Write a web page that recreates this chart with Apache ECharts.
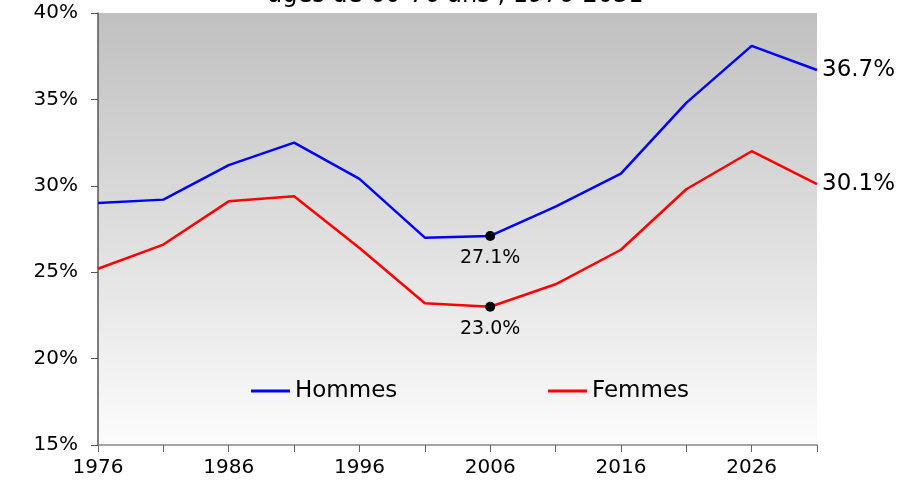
<!DOCTYPE html>
<html>
<head>
<meta charset="utf-8">
<script src="https://cdn.jsdelivr.net/npm/echarts@6/dist/echarts.min.js"></script>
<style>html,body{margin:0;padding:0;background:#fff}#c{width:911px;height:484px}</style>
</head>
<body>
<div id="c"></div>
<script>
const titleText = "âgés de 60-76 ans , 1976-2031";
const years = ["1976","1981","1986","1991","1996","2001","2006","2011","2016","2021","2026","2031"];
const hommes = [29.0, 29.2, 31.2, 32.5, 30.4, 27.0, 27.1, 28.8, 30.7, 34.8, 38.1, 36.7];
const femmes = [25.2, 26.6, 29.1, 29.4, 26.4, 23.2, 23.0, 24.3, 26.3, 29.8, 32.0, 30.1];
const yTicks = [15, 20, 25, 30, 35, 40];
const markedYear = "2006";

const FONT = "DejaVu Sans";
const mi = years.indexOf(markedYear);

function withMarker(arr) {
  return arr.map((v, i) => i === mi ? {
    value: v,
    symbol: 'circle',
    symbolSize: 10,
    itemStyle: { color: '#000' },
    label: {
      show: true, position: 'bottom', distance: 8,
      formatter: (p) => p.value.toFixed(1) + '%',
      fontFamily: FONT, fontSize: 19, color: '#000'
    }
  } : v);
}

const chart = echarts.init(document.getElementById('c'), null, { renderer: 'canvas' });
chart.setOption({
  animation: false,
  backgroundColor: '#fff',
  graphic: [{
    type: 'text', left: 'center', top: -16,
    style: { text: titleText, font: '24px "DejaVu Sans"', fill: '#000' }
  }],
  grid: {
    left: 98, right: 94, top: 13, bottom: 39,
    containLabel: false, outerBoundsMode: 'none',
    show: true, borderWidth: 0,
    backgroundColor: new echarts.graphic.LinearGradient(0, 0, 0, 1, [
      { offset: 0, color: '#c0c0c0' },
      { offset: 1, color: '#fcfcfc' }
    ])
  },
  legend: [
    { data: ['Hommes'], left: 246, top: 372, icon: 'rect', itemWidth: 39, itemHeight: 3,
      textStyle: { fontFamily: FONT, fontSize: 23, color: '#000', lineHeight: 28 } },
    { data: ['Femmes'], left: 543, top: 372, icon: 'rect', itemWidth: 39, itemHeight: 3,
      textStyle: { fontFamily: FONT, fontSize: 23, color: '#000', lineHeight: 28 } }
  ],
  xAxis: {
    type: 'category', data: years, boundaryGap: false,
    axisLine: { show: true, lineStyle: { color: '#888', width: 1.5 } },
    axisTick: { show: true, length: 7, interval: 0, lineStyle: { color: '#666' } },
    axisLabel: { interval: 1, margin: 13, fontFamily: FONT, fontSize: 20, color: '#000' },
    splitLine: { show: false }
  },
  yAxis: {
    type: 'value', min: yTicks[0], max: yTicks[yTicks.length - 1], interval: 5,
    axisLine: { show: true, lineStyle: { color: '#555', width: 1.5 } },
    axisTick: { show: true, length: 7, lineStyle: { color: '#555' } },
    axisLabel: { margin: 20, formatter: '{value}%', fontFamily: FONT, fontSize: 20, color: '#000' },
    splitLine: { show: false }
  },
  series: [
    {
      name: 'Hommes', type: 'line', data: withMarker(hommes),
      symbol: 'none', color: '#0000ff',
      lineStyle: { color: '#0000ff', width: 2.5 },
      endLabel: { show: true, distance: 5, formatter: (p) => p.value.toFixed(1) + '%',
        fontFamily: FONT, fontSize: 23, color: '#000' },
      z: 3
    },
    {
      name: 'Femmes', type: 'line', data: withMarker(femmes),
      symbol: 'none', color: '#ff0000',
      lineStyle: { color: '#ff0000', width: 2.5 },
      endLabel: { show: true, distance: 5, formatter: (p) => p.value.toFixed(1) + '%',
        fontFamily: FONT, fontSize: 23, color: '#000' },
      z: 3
    }
  ]
});
</script>
</body>
</html>
